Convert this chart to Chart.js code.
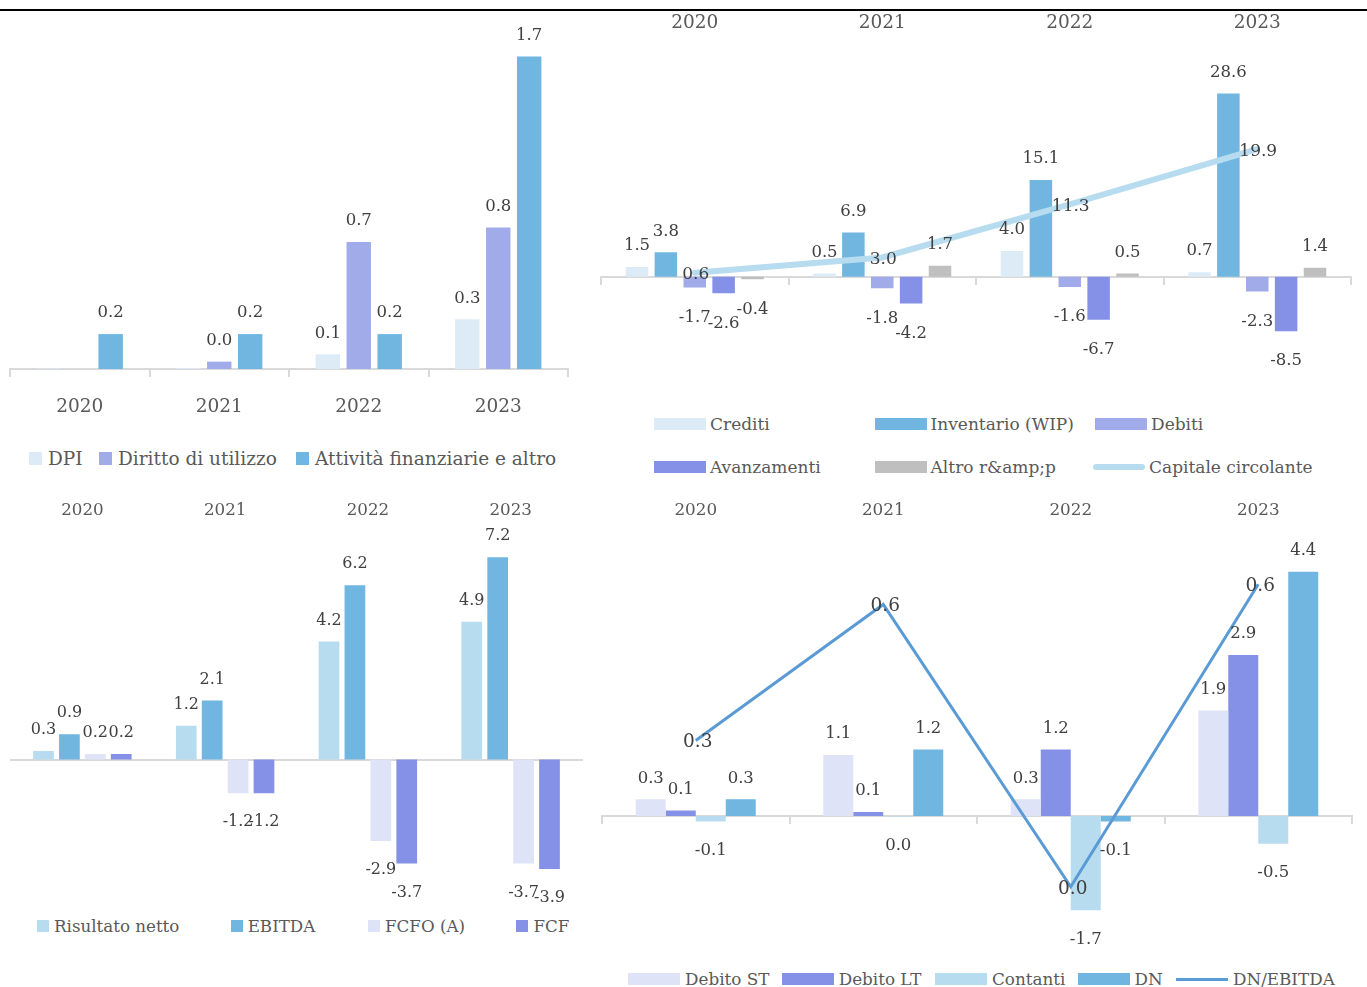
<!DOCTYPE html>
<html><head><meta charset="utf-8">
<script src="https://cdn.jsdelivr.net/npm/chart.js@4.4.1/dist/chart.umd.min.js"></script>
<style>
html,body{margin:0;padding:0;background:#fff;}
body{width:1367px;height:987px;position:relative;overflow:hidden;font-family:'DejaVu Serif',serif;}
#topline{position:absolute;left:0;top:9px;width:1367px;height:2px;background:#000;}
canvas{position:absolute;}
.lg{position:absolute;display:flex;align-items:center;white-space:nowrap;color:#595959;height:30px;}
.lg .sw{display:inline-block;flex:none;}
</style></head><body>
<div id="topline"></div>
<canvas id="c1" width="590" height="440" style="left:0px;top:0px"></canvas>
<canvas id="c2" width="777" height="400" style="left:590px;top:0px"></canvas>
<canvas id="c3" width="595" height="420" style="left:0px;top:490px"></canvas>
<canvas id="c4" width="772" height="470" style="left:595px;top:490px"></canvas>
<script>
// ---------- data ----------
const years = ['2020', '2021', '2022', '2023'];
// Panel 1
const dpi = [0.003, 0.005, 0.08, 0.27];
const dirittoUtilizzo = [null, 0.04, 0.69, 0.77];
const attivitaFinanziarie = [0.19, 0.19, 0.19, 1.7];
// Panel 2
const crediti = [1.5, 0.5, 4.0, 0.7];
const inventario = [3.8, 6.9, 15.1, 28.6];
const debiti = [-1.7, -1.8, -1.6, -2.3];
const avanzamenti = [-2.6, -4.2, -6.7, -8.5];
const altroRP = [-0.4, 1.7, 0.5, 1.4];
const capitaleCircolante = [0.6, 3.0, 11.3, 19.9];
// Panel 3
const risultatoNetto = [0.3, 1.2, 4.2, 4.9];
const ebitda = [0.9, 2.1, 6.2, 7.2];
const fcfo = [0.2, -1.2, -2.9, -3.7];
const fcf = [0.2, -1.2, -3.7, -3.9];
// Panel 4
const debitoST = [0.3, 1.1, 0.3, 1.9];
const debitoLT = [0.1, 0.07, 1.2, 2.9];
const contanti = [-0.1, -0.01, -1.7, -0.5];
const debitoNetto = [0.3, 1.2, -0.1, 4.4];
const dnEbitda = [0.29, 0.56, 0.0, 0.6];

// ---------- styles ----------
const C = {
  pale: '#ddebf7', lav: '#a2abea', blue: '#71b6e1', purple: '#8591e6',
  grey: '#bfbfbf', sky: '#b7dcf0', paleLav: '#dfe3f7', line: '#5b9bd5',
  axis: '#d9d9d9', text: '#595959', label: '#404040'
};
Chart.defaults.font.family = "'DejaVu Serif', serif";
Chart.defaults.color = C.text;

function fmt(v) {
  const r = Math.round(v * 10) / 10;
  return (Math.abs(r) < 1e-9 ? 0 : r).toFixed(1);
}

const valueLabels = {
  id: 'valueLabels',
  afterDatasetsDraw(chart, args, o) {
    const ctx = chart.ctx;
    ctx.save();
    ctx.fillStyle = C.label;
    ctx.textAlign = 'center';
    ctx.textBaseline = 'middle';
    chart.data.datasets.forEach((ds, i) => {
      const meta = chart.getDatasetMeta(i);
      const isLine = meta.type === 'line';
      meta.data.forEach((el, j) => {
        const v = ds.data[j];
        if (v === null || v === undefined) return;
        if (!isLine && Math.abs(v) < 0.01) return;
        let x = el.x, y;
        if (isLine) {
          ctx.font = o.lineSize + "px 'DejaVu Serif', serif";
          y = el.y + (o.lineDy || 0);
          x = el.x + (o.lineDx || 0);
        } else {
          ctx.font = o.size + "px 'DejaVu Serif', serif";
          y = v >= 0 ? el.y - o.above : el.y + o.below;
        }
        ctx.fillText(fmt(v), x, y);
      });
    });
    ctx.restore();
  }
};

function topAxis(height, pad, size) {
  return {
    position: 'top', offset: true,
    grid: { display: false, drawTicks: false },
    border: { display: false },
    ticks: { color: C.text, font: { size: size }, padding: pad, maxRotation: 0 },
    afterFit(s) { s.height = height; }
  };
}
function zeroAxis(tickLen) {
  return {
    type: 'category', labels: years, position: { y: 0 }, offset: true,
    grid: { offset: true, drawOnChartArea: false, drawTicks: tickLen > 0, tickLength: tickLen, color: C.axis, lineWidth: 2 },
    border: { color: C.axis, width: 2 },
    ticks: { display: false }
  };
}
const base = { responsive: false, animation: false, devicePixelRatio: 1, events: [] };

// ---------- Panel 1 ----------
const ch1 = new Chart(document.getElementById('c1'), {
  type: 'bar',
  data: { labels: years, datasets: [
    { label: 'DPI', data: dpi, backgroundColor: C.pale },
    { label: 'Diritto di utilizzo', data: dirittoUtilizzo, backgroundColor: C.lav },
    { label: 'Attività finanziarie e altro', data: attivitaFinanziarie, backgroundColor: C.blue }
  ]},
  options: Object.assign({}, base, {
    datasets: { bar: { categoryPercentage: 0.665, barPercentage: 0.79 } },
    layout: { padding: { left: 10, right: 22, top: 38, bottom: 0 } },
    plugins: { legend: { display: false }, tooltip: { enabled: false },
      valueLabels: { size: 16.5, above: 21, below: 29 } },
    scales: {
      x: { position: 'bottom', offset: true,
        grid: { offset: true, drawOnChartArea: false, tickLength: 8, color: C.axis, lineWidth: 2 },
        border: { color: C.axis, width: 2 },
        ticks: { color: C.text, font: { size: 18.5 }, padding: 19 },
        afterFit(s) { s.height = 71; } },
      y: { display: false, min: 0, max: 1.8 }
    }
  }),
  plugins: [valueLabels]
});

// ---------- Panel 2 ----------
const ch2 = new Chart(document.getElementById('c2'), {
  type: 'bar',
  data: { labels: years, datasets: [
    { type: 'line', label: 'Capitale circolante', data: capitaleCircolante, borderColor: C.sky, borderWidth: 6,
      borderCapStyle: 'round', pointRadius: 0, fill: false, order: 0 },
    { label: 'Crediti', data: crediti, backgroundColor: C.pale, order: 1 },
    { label: 'Inventario (WIP)', data: inventario, backgroundColor: C.blue, order: 1 },
    { label: 'Debiti', data: debiti, backgroundColor: C.lav, order: 1 },
    { label: 'Avanzamenti', data: avanzamenti, backgroundColor: C.purple, order: 1 },
    { label: 'Altro r&amp;p', data: altroRP, backgroundColor: C.grey, order: 1 }
  ]},
  options: Object.assign({}, base, {
    datasets: { bar: { categoryPercentage: 0.77, barPercentage: 0.78 } },
    layout: { padding: { left: 11, right: 16, top: 0, bottom: 46.4 } },
    plugins: { legend: { display: false }, tooltip: { enabled: false },
      valueLabels: { size: 16.5, above: 21, below: 30, lineSize: 17, lineDx: 1, lineDy: 2 } },
    scales: {
      x: topAxis(71.6, 37.5, 18.5),
      x2: zeroAxis(7),
      y: { display: false, min: -12, max: 32 }
    }
  }),
  plugins: [valueLabels]
});

// ---------- Panel 3 ----------
const ch3 = new Chart(document.getElementById('c3'), {
  type: 'bar',
  data: { labels: years, datasets: [
    { label: 'Risultato netto', data: risultatoNetto, backgroundColor: C.sky },
    { label: 'EBITDA', data: ebitda, backgroundColor: C.blue },
    { label: 'FCFO (A)', data: fcfo, backgroundColor: C.paleLav },
    { label: 'FCF', data: fcf, backgroundColor: C.purple }
  ]},
  options: Object.assign({}, base, {
    datasets: { bar: { categoryPercentage: 0.726, barPercentage: 0.80 } },
    layout: { padding: { left: 11, right: 13, top: 0, bottom: 10 } },
    plugins: { legend: { display: false }, tooltip: { enabled: false },
      valueLabels: { size: 16, above: 21, below: 29 } },
    scales: {
      x: topAxis(44.7, 13.7, 16.7),
      x2: zeroAxis(0),
      y: { display: false, min: -5, max: 8 }
    }
  }),
  plugins: [valueLabels]
});

// ---------- Panel 4 ----------
const ch4 = new Chart(document.getElementById('c4'), {
  type: 'bar',
  data: { labels: years, datasets: [
    { type: 'line', label: 'DN/EBITDA', data: dnEbitda, yAxisID: 'y2', borderColor: C.line, borderWidth: 3,
      pointRadius: 0, fill: false, order: 0 },
    { label: 'Debito ST', data: debitoST, backgroundColor: C.paleLav, order: 1 },
    { label: 'Debito LT', data: debitoLT, backgroundColor: C.purple, order: 1 },
    { label: 'Contanti', data: contanti, backgroundColor: C.sky, order: 1 },
    { label: 'DN', data: debitoNetto, backgroundColor: C.blue, order: 1 }
  ]},
  options: Object.assign({}, base, {
    datasets: { bar: { categoryPercentage: 0.64, barPercentage: 1.0 } },
    layout: { padding: { left: 7, right: 15, top: 0, bottom: 5.25 } },
    plugins: { legend: { display: false }, tooltip: { enabled: false },
      valueLabels: { size: 16.5, above: 21, below: 29, lineSize: 18.5, lineDx: 2, lineDy: 2 } },
    scales: {
      x: topAxis(48.5, 18, 16.8),
      x2: zeroAxis(7),
      y: { display: false, min: -2.5, max: 5 },
      y2: { display: false, position: 'right', min: -0.135, max: 0.6909 }
    }
  }),
  plugins: [valueLabels]
});

// ---------- HTML legends built from the chart datasets ----------
function legend(chart, spec) {
  spec.order.forEach((di, k) => {
    const ds = chart.data.datasets[di];
    const [left, cy] = spec.pos[k];
    const d = document.createElement('div');
    d.className = 'lg';
    d.style.left = left + 'px';
    d.style.top = (cy - 15) + 'px';
    d.style.fontSize = spec.size + 'px';
    const sw = document.createElement('span');
    sw.className = 'sw';
    sw.style.width = spec.sw[0] + 'px';
    if (ds.type === 'line') {
      sw.style.height = ds.borderWidth + 'px';
      sw.style.background = ds.borderColor;
      sw.style.borderRadius = (ds.borderCapStyle === 'round' ? ds.borderWidth / 2 : 0) + 'px';
    } else {
      sw.style.height = spec.sw[1] + 'px';
      sw.style.background = ds.backgroundColor;
    }
    const t = document.createElement('span');
    t.textContent = ds.label;
    t.style.marginLeft = spec.gap + 'px';
    d.appendChild(sw); d.appendChild(t);
    document.body.appendChild(d);
  });
}
legend(ch1, { order: [0, 1, 2], pos: [[29, 458], [99, 458], [296, 458]], sw: [13, 13], size: 18.5, gap: 6 });
legend(ch2, { order: [1, 2, 3, 4, 5, 0],
  pos: [[654, 424], [874.6, 424], [1095, 424], [654, 467], [874.6, 467], [1093, 467]], sw: [52, 12], size: 17, gap: 4 });
legend(ch3, { order: [0, 1, 2, 3], pos: [[37, 926], [230.7, 926], [368, 926], [516.4, 926]], sw: [12, 12], size: 16.7, gap: 5 });
legend(ch4, { order: [1, 2, 3, 4, 0],
  pos: [[628, 979], [781.7, 979], [935, 979], [1077.6, 979], [1176, 979]], sw: [52, 12], size: 16.8, gap: 5 });
</script>
</body></html>
